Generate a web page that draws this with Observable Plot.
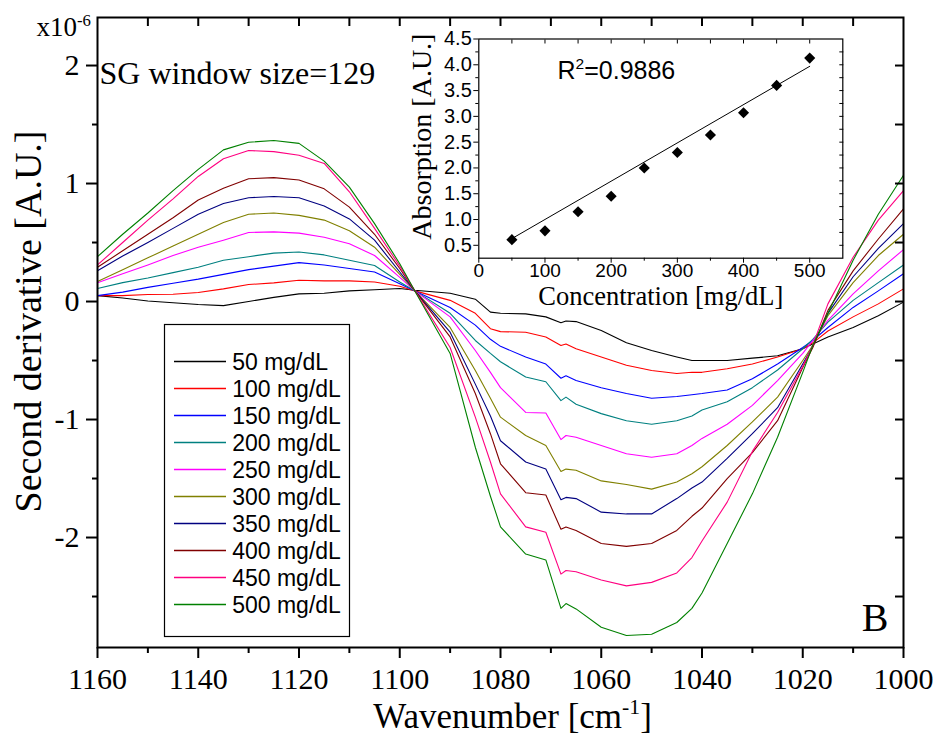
<!DOCTYPE html>
<html><head><meta charset="utf-8">
<script src="https://cdn.jsdelivr.net/npm/d3@7"></script>
<script src="https://cdn.jsdelivr.net/npm/@observablehq/plot@0.6"></script>
<style>
html,body{margin:0;padding:0;background:#fff;}
#wrap{position:relative;width:935px;height:736px;background:#fff;overflow:hidden;}
#wrap svg{position:absolute;overflow:visible;}
</style></head><body><div id="wrap"></div>
<script>
// ---------- data ----------
const wavenumber = [1160,1155,1150,1145,1140,1135,1130,1125,1120,1115,1110,1105,1100,1097,1090,1085,1082,1080,1075,1071,1068,1067,1065,1060,1055,1050,1045,1042,1040,1035,1030,1025,1020,1018,1015,1010,1005,1000];
const seriesNames = ["50 mg/dL","100 mg/dL","150 mg/dL","200 mg/dL","250 mg/dL","300 mg/dL","350 mg/dL","400 mg/dL","450 mg/dL","500 mg/dL"];
const seriesColors = ["#000000","#ff0000","#0000ff","#008080","#ff00ff","#808000","#000080","#800000","#ff0080","#008000"];
const mg50  = [0.05,0.03,0.005,-0.01,-0.025,-0.035,0.0,0.035,0.065,0.07,0.09,0.10,0.11,0.095,0.07,0.02,-0.09,-0.10,-0.105,-0.13,-0.18,-0.165,-0.17,-0.245,-0.35,-0.415,-0.47,-0.50,-0.50,-0.50,-0.48,-0.46,-0.40,-0.36,-0.30,-0.22,-0.12,-0.005];
const mg100 = [0.05,0.05,0.06,0.062,0.076,0.107,0.144,0.158,0.18,0.175,0.175,0.165,0.13,0.09,0.01,-0.10,-0.23,-0.255,-0.26,-0.30,-0.373,-0.36,-0.40,-0.47,-0.54,-0.585,-0.61,-0.60,-0.60,-0.57,-0.53,-0.47,-0.40,-0.35,-0.25,-0.13,-0.02,0.107];
const mg150 = [0.05,0.08,0.12,0.155,0.19,0.23,0.27,0.30,0.33,0.31,0.28,0.25,0.15,0.09,-0.05,-0.20,-0.32,-0.38,-0.47,-0.53,-0.65,-0.63,-0.67,-0.73,-0.78,-0.82,-0.805,-0.79,-0.78,-0.75,-0.655,-0.53,-0.39,-0.33,-0.22,-0.05,0.09,0.235];
const mg200 = [0.11,0.16,0.20,0.245,0.29,0.35,0.38,0.41,0.42,0.395,0.35,0.305,0.165,0.09,-0.10,-0.33,-0.44,-0.51,-0.64,-0.68,-0.84,-0.81,-0.87,-0.95,-1.01,-1.04,-1.01,-0.97,-0.92,-0.85,-0.73,-0.58,-0.40,-0.32,-0.175,0.01,0.16,0.31];
const mg250 = [0.16,0.235,0.31,0.39,0.46,0.52,0.585,0.59,0.58,0.545,0.49,0.39,0.205,0.09,-0.13,-0.415,-0.60,-0.73,-0.94,-0.945,-1.17,-1.135,-1.15,-1.22,-1.29,-1.32,-1.29,-1.22,-1.16,-1.04,-0.88,-0.67,-0.44,-0.33,-0.16,0.065,0.26,0.44];
const mg300 = [0.17,0.27,0.37,0.47,0.57,0.67,0.74,0.75,0.73,0.69,0.60,0.46,0.23,0.09,-0.22,-0.585,-0.82,-0.98,-1.135,-1.22,-1.44,-1.42,-1.43,-1.52,-1.55,-1.59,-1.53,-1.46,-1.40,-1.22,-1.02,-0.81,-0.50,-0.37,-0.12,0.16,0.39,0.57];
const mg350 = [0.26,0.385,0.50,0.62,0.74,0.83,0.88,0.89,0.88,0.81,0.70,0.52,0.25,0.09,-0.26,-0.70,-0.97,-1.18,-1.36,-1.42,-1.68,-1.66,-1.67,-1.785,-1.80,-1.80,-1.67,-1.58,-1.53,-1.33,-1.12,-0.90,-0.53,-0.38,-0.10,0.21,0.45,0.66];
const mg400 = [0.29,0.43,0.57,0.71,0.86,0.96,1.04,1.05,1.03,0.955,0.80,0.57,0.28,0.09,-0.30,-0.78,-1.12,-1.375,-1.62,-1.64,-1.93,-1.91,-1.94,-2.05,-2.075,-2.05,-1.94,-1.82,-1.75,-1.50,-1.28,-1.01,-0.56,-0.39,-0.075,0.26,0.53,0.785];
const mg450 = [0.31,0.50,0.69,0.87,1.06,1.21,1.28,1.27,1.24,1.17,0.93,0.62,0.30,0.09,-0.39,-0.98,-1.36,-1.63,-1.91,-1.955,-2.31,-2.28,-2.29,-2.36,-2.41,-2.38,-2.30,-2.17,-2.03,-1.70,-1.27,-0.94,-0.55,-0.37,-0.02,0.375,0.69,0.94];
const mg500 = [0.38,0.57,0.75,0.94,1.12,1.285,1.35,1.365,1.34,1.19,0.97,0.66,0.32,0.09,-0.44,-1.235,-1.65,-1.91,-2.14,-2.19,-2.60,-2.56,-2.605,-2.76,-2.83,-2.82,-2.72,-2.60,-2.47,-2.05,-1.63,-1.15,-0.60,-0.37,-0.10,0.35,0.74,1.07];
const seriesValues = [mg50,mg100,mg150,mg200,mg250,mg300,mg350,mg400,mg450,mg500];

const xMajorTicks = [1160,1140,1120,1100,1080,1060,1040,1020,1000];
const xMinorTicks = [1150,1130,1110,1090,1070,1050,1030,1010];
const yMajorTicks = [-2,-1,0,1,2];
const yMinorTicks = [-2.5,-1.5,-0.5,0.5,1.5];

// inset
const concentration = [50,100,150,200,250,300,350,400,450,500];
const absorption = [0.61,0.78,1.15,1.45,2.00,2.30,2.64,3.07,3.60,4.13];
const fitConcentration = [50,500];
const fitAbsorption = [0.63,3.97];
const insetXTicks = [0,100,200,300,400,500];
const insetXMinor = [50,150,250,350,450];
const insetYTicks = [0.5,1.0,1.5,2.0,2.5,3.0,3.5,4.0,4.5];
const insetYMinor = [0.75,1.25,1.75,2.25,2.75,3.25,3.75,4.25];

// ---------- helpers ----------
function supify(svg){
  d3.select(svg).selectAll("text").each(function(){
    const t = this.textContent;
    if (!t.includes("^{")) return;
    const parts = t.split(/(\^\{[^}]*\})/);
    const sel = d3.select(this); sel.text(null);
    let up = false;
    parts.forEach(p => {
      if (!p) return;
      if (p.startsWith("^{")) {
        sel.append("tspan").attr("dy","-0.6em").attr("font-size","0.62em").text(p.slice(2,-1));
        up = true;
      } else {
        const ts = sel.append("tspan").text(p);
        if (up) { ts.attr("dy","0.372em"); up = false; }
      }
    });
  });
}
const serif = "Liberation Serif, Times New Roman, serif";
const sans = "Liberation Sans, Arial, sans-serif";
const wrap = document.getElementById("wrap");

// ---------- main chart ----------
const rows = [];
seriesValues.forEach((vals, i) => vals.forEach((v, j) => rows.push({wn: wavenumber[j], val: v, series: seriesNames[i]})));

const main = Plot.plot({
  width: 935, height: 736,
  marginLeft: 97, marginRight: 32, marginTop: 17, marginBottom: 89,
  style: {fontFamily: serif, fontSize: "30px", background: "transparent", color: "black"},
  x: {domain: [1160, 1000]},
  y: {domain: [-2.932, 2.407]},
  color: {domain: seriesNames, range: seriesColors},
  marks: [
    Plot.line(rows, {x: "wn", y: "val", z: "series", stroke: "series", strokeWidth: 1.1}),
    Plot.axisX({ticks: xMajorTicks, tickSize: 11, tickPadding: 9, strokeWidth: 2, tickFormat: d => String(d), label: null, fontSize: 30, fontFamily: serif}),
    Plot.axisX({ticks: xMinorTicks, tickSize: 6, strokeWidth: 2, tickFormat: () => "", label: null}),
    Plot.axisX({anchor: "top", ticks: d3.range(1150, 1000, -10), tickSize: -8, strokeWidth: 2, tickFormat: () => "", label: null}),
    Plot.axisY({ticks: yMajorTicks, tickSize: 11, tickPadding: 7, strokeWidth: 2, tickFormat: d => String(d), label: null, fontSize: 30, fontFamily: serif}),
    Plot.axisY({ticks: yMinorTicks, tickSize: 5, strokeWidth: 2, tickFormat: () => "", label: null}),
    Plot.axisY({anchor: "right", ticks: yMajorTicks.concat(yMinorTicks), tickSize: -9, strokeWidth: 2, tickFormat: () => "", label: null}),
    Plot.frame({stroke: "black", strokeWidth: 2}),
    Plot.text(["Wavenumber [cm^{-1}]"], {frameAnchor: "bottom", textAnchor: "middle", dx: 12, dy: 80, lineAnchor: "bottom", fontSize: 35, fontFamily: serif, fill: "black"}),
    Plot.text(["Second derivative [A.U.]"], {frameAnchor: "left", textAnchor: "middle", rotate: -90, dx: -57, dy: -11, lineAnchor: "bottom", fontSize: 38, fontFamily: serif, fill: "black"}),
    Plot.text(["SG window size=129"], {frameAnchor: "top-left", textAnchor: "start", lineAnchor: "bottom", dx: 2, dy: 66, fontSize: 32, fontFamily: serif, fill: "black"}),
    Plot.text(["B"], {frameAnchor: "bottom-right", textAnchor: "end", lineAnchor: "bottom", dx: -15, dy: -17, fontSize: 40, fontFamily: serif, fill: "black"}),
    Plot.text(["x10^{-6}"], {frameAnchor: "top-left", textAnchor: "start", lineAnchor: "bottom", dx: -61, dy: 18.7, fontSize: 27, fontFamily: serif, fill: "black"})
  ]
});
main.style.left = "0px"; main.style.top = "0px";
supify(main);
wrap.appendChild(main);

// ---------- inset ----------
const points = concentration.map((c, i) => ({c, a: absorption[i]}));
const fit = fitConcentration.map((c, i) => ({c, a: fitAbsorption[i]}));
const inset = Plot.plot({
  width: 450, height: 310,
  marginLeft: 78.3, marginRight: 7.7, marginTop: 38.5, marginBottom: 52.3,
  style: {fontFamily: sans, fontSize: "20px", background: "transparent", color: "black"},
  x: {domain: [0, 550]},
  y: {domain: [0.25, 4.5]},
  marks: [
    Plot.line(fit, {x: "c", y: "a", stroke: "black", strokeWidth: 1}),
    Plot.dot(points, {x: "c", y: "a", symbol: "diamond2", r: 5, fill: "black", stroke: "none"}),
    Plot.axisX({ticks: insetXTicks, tickSize: 5, tickPadding: 0, tickFormat: d => String(d), label: null, fontSize: 19, fontFamily: sans}),
    Plot.axisX({ticks: insetXMinor, tickSize: 3, tickFormat: () => "", label: null}),
    Plot.axisX({anchor: "top", ticks: insetXTicks.concat(insetXMinor).filter(d => d > 0), tickSize: -4, tickFormat: () => "", label: null}),
    Plot.axisY({ticks: insetYTicks, tickSize: 5, tickPadding: 2, tickFormat: d => d.toFixed(1), label: null, fontSize: 20, fontFamily: sans}),
    Plot.axisY({ticks: insetYMinor, tickSize: 3, tickFormat: () => "", label: null}),
    Plot.axisY({anchor: "right", ticks: insetYTicks.concat(insetYMinor).filter(d => d < 4.5), tickSize: -4, tickFormat: () => "", label: null}),
    Plot.frame({stroke: "black", strokeWidth: 1.2}),
    Plot.text(["Concentration [mg/dL]"], {frameAnchor: "bottom", textAnchor: "middle", lineAnchor: "bottom", dy: 46.5, fontSize: 26.5, fontFamily: serif, fill: "black"}),
    Plot.text(["Absorption [A.U.]"], {frameAnchor: "left", textAnchor: "middle", rotate: -90, lineAnchor: "bottom", dx: -48.3, dy: -12, fontSize: 28, fontFamily: serif, fill: "black"}),
    Plot.text(["R^{2}=0.9886"], {frameAnchor: "top-left", textAnchor: "start", lineAnchor: "bottom", dx: 78.7, dy: 39.5, fontSize: 25, fontFamily: sans, fill: "black"})
  ]
});
inset.style.left = "400px"; inset.style.top = "0px";
supify(inset);
wrap.appendChild(inset);

// ---------- legend ----------
const legend = Plot.plot({
  width: 185, height: 312,
  margin: 0,
  style: {fontFamily: sans, background: "transparent", color: "black"},
  x: {axis: null},
  y: {type: "point", domain: seriesNames, range: [20.3, 297.7], axis: null},
  color: {domain: seriesNames, range: seriesColors},
  marks: [
    Plot.frame({stroke: "black", strokeWidth: 1.2}),
    Plot.ruleY(seriesNames, {y: d => d, stroke: d => d, strokeWidth: 1.6, insetLeft: 10, insetRight: 123}),
    Plot.text(seriesNames, {y: d => d, text: d => d, frameAnchor: "left", textAnchor: "start", dx: 67.7, dy: 1.5, fontSize: 23, fontFamily: sans, fill: "black"})
  ]
});
legend.style.left = "164px"; legend.style.top = "324px";
wrap.appendChild(legend);
</script>
</body></html>
